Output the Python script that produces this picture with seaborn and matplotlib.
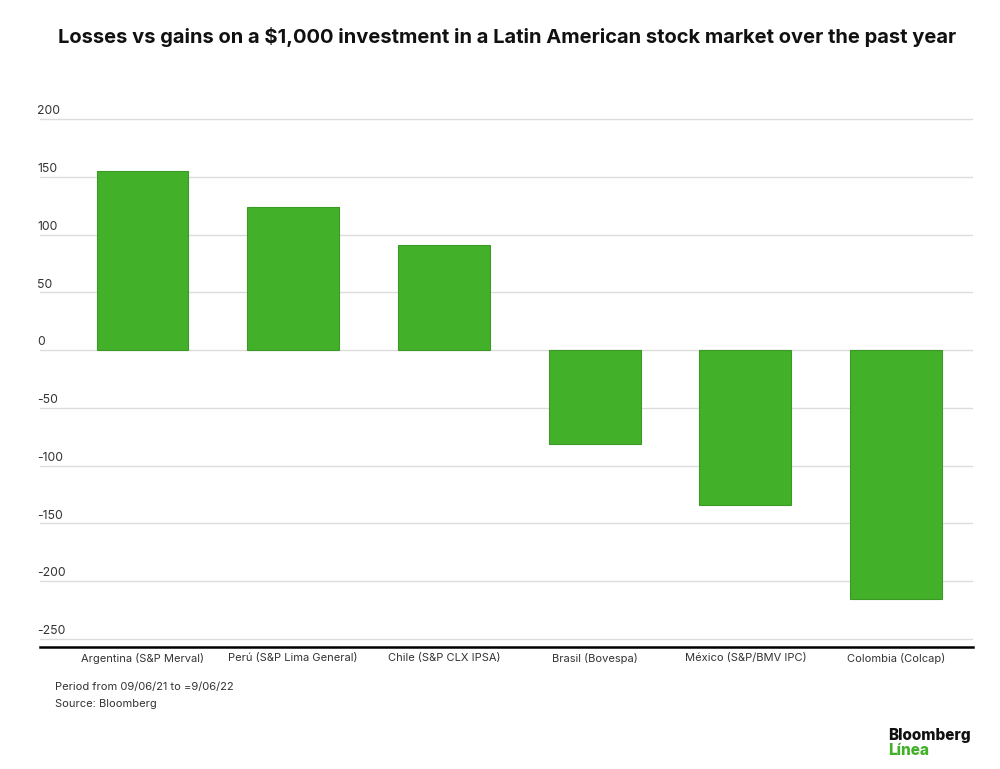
import seaborn as sns
import matplotlib.pyplot as plt
import matplotlib.transforms as mtransforms
import pandas as pd

markets = ['Argentina (S&P Merval)', 'Perú (S&P Lima General)', 'Chile (S&P CLX IPSA)',
           'Brasil (Bovespa)', 'México (S&P/BMV IPC)', 'Colombia (Colcap)']
gains = [155, 124, 91, -81, -134, -215]
y_ticks = [200, 150, 100, 50, 0, -50, -100, -150, -200, -250]

GREEN = '#43b02a'

sns.set_theme(style='white')
plt.rcParams['font.family'] = ['Inter', 'DejaVu Sans']

df = pd.DataFrame({'market': markets, 'gain': gains})

fig = plt.figure(figsize=(10, 7.69), dpi=100)
ax = fig.add_axes([0.04, 0.1586, 0.933, 0.6942])

sns.barplot(data=df, x='market', y='gain', color=GREEN, width=0.61,
            edgecolor='#3a9a25', linewidth=0.8, saturation=1, ax=ax, zorder=3)

ax.set_ylim(-257, 205)
ax.set_xlim(-0.68, 5.51)
ax.set_yticks(y_ticks)
ax.yaxis.grid(True, color='#dcdcdc', linewidth=1, zorder=0)
ax.set_yticklabels([])
ax.tick_params(axis='y', length=0)
for s in ['top', 'right', 'left']:
    ax.spines[s].set_visible(False)
ax.spines['bottom'].set_color('black')
ax.spines['bottom'].set_linewidth(1.8)
ax.set_xlabel('')
ax.set_ylabel('')
ax.tick_params(axis='x', length=0, pad=4, labelsize=8, labelcolor='#333333')

# y labels sit above each gridline at the left edge
trans = mtransforms.blended_transform_factory(ax.transAxes, ax.transData)
for v in y_ticks:
    ax.text(-0.003, v + 1.5, f'{v}', transform=trans, ha='left', va='bottom',
            fontsize=8.8, color='#333333')

fig.text(0.507, 0.952, 'Losses vs gains on a $1,000 investment in a Latin American stock market over the past year',
         ha='center', va='center', fontsize=14.5, fontweight='bold', color='#111111')
fig.text(0.055, 0.107, 'Period from 09/06/21 to =9/06/22', ha='left', va='center',
         fontsize=8, color='#333333')
fig.text(0.055, 0.085, 'Source: Bloomberg', ha='left', va='center',
         fontsize=8, color='#333333')
fig.text(0.888, 0.043, 'Bloomberg', ha='left', va='center', fontsize=11,
         fontweight='heavy', color='#111111')
fig.text(0.888, 0.024, 'Línea', ha='left', va='center', fontsize=11,
         fontweight='heavy', color=GREEN)

fig.savefig('out.png', dpi=100)
